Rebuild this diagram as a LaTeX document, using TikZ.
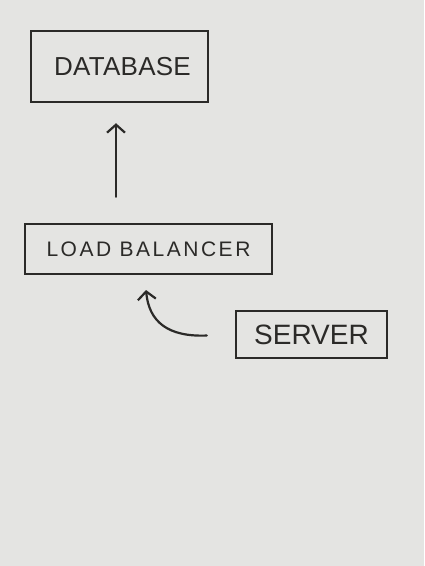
\documentclass[tikz,border=0pt]{standalone}
\usepackage{fontspec}
\setmainfont{Liberation Sans}
\usetikzlibrary{arrows.meta}
\definecolor{paper}{HTML}{E4E4E2}
\definecolor{ink}{HTML}{2B2A28}
\begin{document}
\begin{tikzpicture}[x=1pt,y=-1pt,
  box/.style={draw=ink, line width=2.4pt, inner sep=0pt, text=ink},
  arr/.style={draw=ink, line width=2.2pt, line cap=round,
    -{Straight Barb[length=8pt,width=18pt,line width=2.2pt]}}]
\fill[paper] (0,0) rectangle (424,566);
\useasboundingbox (0,0) rectangle (424,566);
\node[box, minimum width=177pt, minimum height=71pt]
  (db) at (119.5,66.5) {\hspace*{6pt}\fontsize{26}{30}\selectfont\addfontfeature{LetterSpace=1}DATABASE};
\node[box, minimum width=247pt, minimum height=50pt]
  (lb) at (148.5,249) {\fontsize{21}{24}\selectfont\addfontfeature{LetterSpace=12}LOAD BALANCER};
\node[box, minimum width=151pt, minimum height=47pt]
  (srv) at (311.5,334.5) {\fontsize{28}{30}\selectfont SERVER};
\coordinate (ax) at (116,0);
\draw[arr, shorten <=26pt, shorten >=20pt] (lb.north -| ax) -- (db.south -| ax);
\coordinate (tip) at (146,290);
\draw[arr, shorten <=28pt] (srv.west) .. controls (168,337) and (149,322) .. (tip);
\end{tikzpicture}
\end{document}
